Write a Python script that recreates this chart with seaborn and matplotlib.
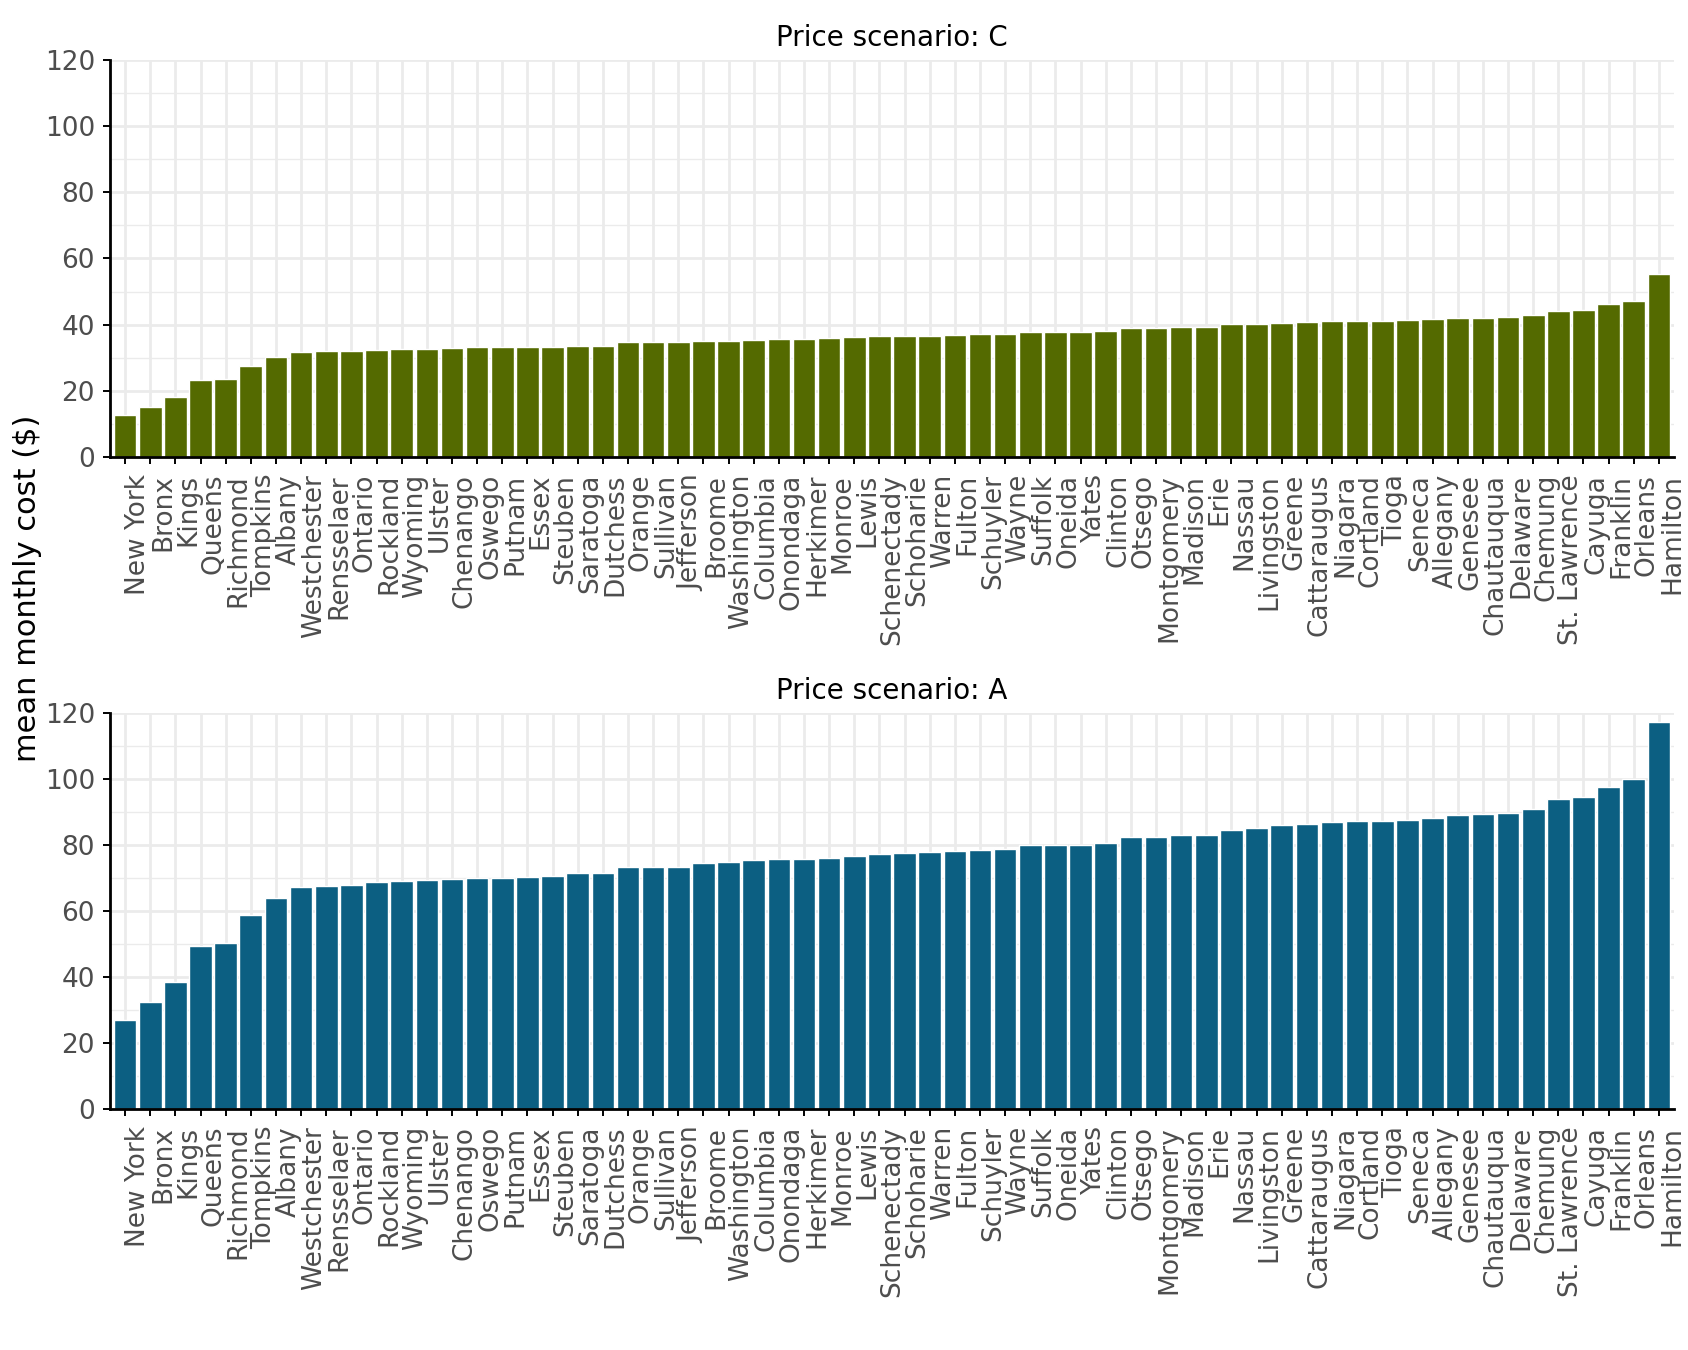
import pandas as pd
import seaborn as sns
import matplotlib.pyplot as plt
from matplotlib.ticker import MultipleLocator

# Counties in display order (sorted by cost)
counties = ["New York", "Bronx", "Kings", "Queens", "Richmond", "Tompkins", "Albany",
            "Westchester", "Rensselaer", "Ontario", "Rockland", "Wyoming", "Ulster",
            "Chenango", "Oswego", "Putnam", "Essex", "Steuben", "Saratoga", "Dutchess",
            "Orange", "Sullivan", "Jefferson", "Broome", "Washington", "Columbia",
            "Onondaga", "Herkimer", "Monroe", "Lewis", "Schenectady", "Schoharie",
            "Warren", "Fulton", "Schuyler", "Wayne", "Suffolk", "Oneida", "Yates",
            "Clinton", "Otsego", "Montgomery", "Madison", "Erie", "Nassau", "Livingston",
            "Greene", "Cattaraugus", "Niagara", "Cortland", "Tioga", "Seneca", "Allegany",
            "Genesee", "Chautauqua", "Delaware", "Chemung", "St. Lawrence", "Cayuga",
            "Franklin", "Orleans", "Hamilton"]

# mean monthly cost, price scenario C
cost_c = [12.6, 15.2, 18.1, 23.3, 23.5, 27.5, 30.1, 31.7, 32.0, 32.0, 32.2, 32.5, 32.5,
          32.8, 33.1, 33.1, 33.1, 33.3, 33.6, 33.6, 34.7, 34.7, 34.7, 35.2, 35.2, 35.5,
          35.7, 35.7, 36.1, 36.3, 36.5, 36.5, 36.5, 36.8, 37.1, 37.1, 37.7, 37.7, 37.7,
          38.0, 38.9, 38.9, 39.2, 39.2, 40.1, 40.1, 40.6, 40.8, 41.1, 41.1, 41.1, 41.3,
          41.6, 42.1, 42.1, 42.4, 42.9, 44.2, 44.5, 46.1, 47.1, 55.4]

# mean monthly cost, price scenario A
cost_a = [26.9, 32.5, 38.5, 49.4, 50.2, 58.7, 64.0, 67.4, 67.7, 67.9, 68.7, 69.0, 69.3,
          69.6, 70.0, 70.0, 70.3, 70.6, 71.4, 71.4, 73.2, 73.4, 73.4, 74.6, 74.8, 75.4,
          75.7, 75.9, 76.2, 76.7, 77.3, 77.6, 77.8, 78.3, 78.6, 78.9, 79.9, 79.9, 79.9,
          80.7, 82.5, 82.5, 83.1, 83.1, 84.6, 85.2, 86.2, 86.5, 87.0, 87.3, 87.3, 87.5,
          88.3, 89.1, 89.3, 89.8, 90.9, 94.0, 94.5, 97.6, 100.1, 117.2]

sns.set_theme(style="white")
plt.rcParams['font.family'] = ['DejaVu Sans']

W, H = 1688, 1350
fig = plt.figure(figsize=(W / 200, H / 200), dpi=200)
ax_c = fig.add_axes([110 / W, 1 - 457 / H, 1564 / W, 397 / H])
ax_a = fig.add_axes([110 / W, 1 - 1109 / H, 1564 / W, 396 / H])

panels = [(ax_c, cost_c, "#546a00", "Price scenario: C"),
          (ax_a, cost_a, "#0c5f82", "Price scenario: A")]

for ax, vals, col, title in panels:
    df = pd.DataFrame({"county": counties, "cost": vals})
    sns.barplot(data=df, x="county", y="cost", order=counties, color=col,
                saturation=1, width=0.9, edgecolor="white", linewidth=0.5, ax=ax)
    ax.set_xlim(-0.6, len(counties) - 0.4)
    ax.set_ylim(0, 120)
    ax.yaxis.set_major_locator(MultipleLocator(20))
    ax.yaxis.set_minor_locator(MultipleLocator(10))
    ax.set_axisbelow(True)
    ax.grid(which="major", axis="both", color="#ebebeb", lw=1.0)
    ax.grid(which="minor", axis="y", color="#ebebeb", lw=0.5)
    for s in ["top", "right"]:
        ax.spines[s].set_visible(False)
    for s in ["left", "bottom"]:
        ax.spines[s].set_color("black")
        ax.spines[s].set_linewidth(1.0)
    ax.tick_params(axis="both", which="major", length=2.5, width=0.7, color="black",
                   labelcolor="#4d4d4d", labelsize=9.5, direction="out",
                   bottom=True, left=True)
    ax.tick_params(axis="x", pad=3.6)
    ax.tick_params(axis="y", pad=2.9)
    ax.tick_params(which="minor", length=0)
    for lbl in ax.get_xticklabels():
        lbl.set_rotation(90)
        lbl.set_ha("right")
        lbl.set_va("top")
        lbl.set_rotation_mode("anchor")
    ax.set_title(title, fontsize=10, color="black", pad=5)
    ax.set_xlabel("")
    ax.set_ylabel("")

fig.text(28 / W, 1 - 588 / H, "mean monthly cost ($)", rotation=90,
         ha="center", va="center", fontsize=11, color="black")

fig.savefig("out.png", dpi=200)
